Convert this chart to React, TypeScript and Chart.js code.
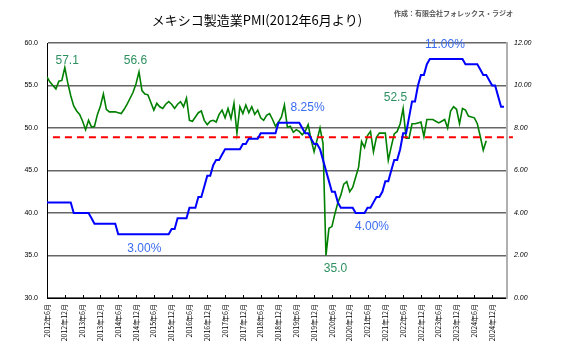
import { useEffect, useRef } from 'react';
import { Chart, registerables } from 'chart.js';
Chart.register(...registerables);

const titleText = 'メキシコ製造業PMI(2012年6月より)';
const sourceText = '作成：有限会社フォレックス・ラジオ';

const xTickLabels = [
  '2012年6月', '2012年12月', '2013年6月', '2013年12月', '2014年6月', '2014年12月',
  '2015年6月', '2015年12月', '2016年6月', '2016年12月', '2017年6月', '2017年12月',
  '2018年6月', '2018年12月', '2019年6月', '2019年12月', '2020年6月', '2020年12月',
  '2021年6月', '2021年12月', '2022年6月', '2022年12月', '2023年6月', '2023年12月',
  '2024年6月', '2024年12月',
];

// Monthly values from 2012-06
const pmi = [
  56.0, 55.4, 55.0, 54.6, 55.5, 55.6, 57.1, 55.3, 53.8, 52.6,
  52.0, 51.6, 50.8, 49.8, 50.9, 50.1, 50.2, 51.6, 52.6, 54.0,
  52.2, 51.9, 51.9, 51.9, 51.8, 51.7, 52.2, 52.8, 53.5, 54.2,
  55.2, 56.6, 54.4, 54.0, 53.9, 53.0, 52.1, 52.9, 52.5, 52.3,
  52.8, 53.1, 52.8, 52.3, 52.8, 53.1, 52.5, 53.5, 50.9, 50.8,
  51.3, 51.8, 52.0, 50.9, 50.4, 50.8, 50.9, 50.7, 51.6, 52.1,
  51.2, 52.3, 51.1, 52.9, 49.4, 52.5, 51.7, 52.7, 51.8, 52.5,
  51.6, 52.1, 51.2, 50.9, 51.5, 51.7, 51.0, 50.2, 50.7, 51.3,
  52.7, 50.1, 50.2, 49.5, 49.8, 49.6, 49.2, 49.6, 50.4, 48.6,
  47.2, 48.6, 50.0, 48.2, 35.0, 38.2, 38.4, 39.9, 41.2, 42.1,
  43.4, 43.7, 42.5, 43.0, 44.2, 45.4, 48.4, 47.7, 49.1, 49.6,
  47.2, 48.9, 49.4, 49.4, 49.4, 46.2, 47.8, 49.3, 49.6, 50.5,
  52.3, 48.8, 48.8, 50.5, 50.5, 50.6, 50.7, 49.0, 51.0, 51.0,
  51.0, 50.8, 50.6, 50.8, 51.0, 50.0, 52.0, 52.5, 52.2, 50.5,
  52.3, 52.1, 51.4, 51.3, 51.2, 50.5, 49.0, 47.4, 48.5,
];

const policyRate = [
  4.5, 4.5, 4.5, 4.5, 4.5, 4.5, 4.5, 4.5, 4.5, 4.0,
  4.0, 4.0, 4.0, 4.0, 4.0, 3.75, 3.5, 3.5, 3.5, 3.5,
  3.5, 3.5, 3.5, 3.5, 3.0, 3.0, 3.0, 3.0, 3.0, 3.0,
  3.0, 3.0, 3.0, 3.0, 3.0, 3.0, 3.0, 3.0, 3.0, 3.0,
  3.0, 3.0, 3.25, 3.25, 3.75, 3.75, 3.75, 3.75, 4.25, 4.25,
  4.25, 4.75, 4.75, 5.25, 5.75, 5.75, 6.25, 6.5, 6.5, 6.75,
  7.0, 7.0, 7.0, 7.0, 7.0, 7.0, 7.25, 7.25, 7.5, 7.5,
  7.5, 7.5, 7.75, 7.75, 7.75, 7.75, 7.75, 7.75, 8.25, 8.25,
  8.25, 8.25, 8.25, 8.25, 8.25, 8.25, 8.0, 7.75, 7.75, 7.5,
  7.25, 7.25, 7.0, 6.5, 6.0, 5.5, 5.0, 5.0, 4.5, 4.25,
  4.25, 4.25, 4.25, 4.25, 4.0, 4.0, 4.0, 4.0, 4.25, 4.25,
  4.5, 4.75, 4.75, 5.0, 5.5, 5.5, 6.0, 6.5, 6.5, 7.0,
  7.75, 7.75, 8.5, 9.25, 9.25, 10.0, 10.5, 10.5, 11.0, 11.25,
  11.25, 11.25, 11.25, 11.25, 11.25, 11.25, 11.25, 11.25, 11.25, 11.25,
  11.25, 11.0, 11.0, 11.0, 11.0, 11.0, 10.75, 10.5, 10.5, 10.25,
  10.0, 10.0, 9.5, 9.0, 9.0,
];

const benchmarkValue = 48.9;
const benchmarkSpan = [2, 157];

const GREEN = '#008000';
const BLUE = '#0000ff';
const GREEN_TEXT = '#2e9060';
const BLUE_TEXT = '#3a6cf0';

const annotations = [
  { text: '57.1', x: 6.8, y: 57.97, color: GREEN_TEXT },
  { text: '56.6', x: 29.8, y: 57.97, color: GREEN_TEXT },
  { text: '8.25%', x: 87.8, y: 52.34, color: BLUE_TEXT },
  { text: '11.00%', x: 134.1, y: 59.85, color: BLUE_TEXT },
  { text: '52.5', x: 117.4, y: 53.52, color: GREEN_TEXT },
  { text: '3.00%', x: 32.8, y: 35.8, color: BLUE_TEXT },
  { text: '4.00%', x: 109.5, y: 38.4, color: BLUE_TEXT },
  { text: '35.0', x: 97.2, y: 33.45, color: GREEN_TEXT },
];

const CJK = '"Noto Sans CJK JP", sans-serif';
const SANS = '"Liberation Sans", Arial, sans-serif';

export default function App() {
  const ref = useRef<HTMLCanvasElement>(null);

  useEffect(() => {
    const canvas = ref.current;
    if (!canvas) return;

    const textPlugin = {
      id: 'texts',
      afterDatasetsDraw(chart: any) {
        const { ctx, scales, chartArea } = chart;
        ctx.save();
        ctx.strokeStyle = '#000';
        ctx.lineWidth = 1;
        scales.x.ticks.forEach((t: any) => {
          const px = Math.round(scales.x.getPixelForValue(t.value)) + 0.5;
          ctx.beginPath();
          ctx.moveTo(px, chartArea.bottom);
          ctx.lineTo(px, chartArea.bottom - 3);
          ctx.stroke();
        });
        ctx.font = `12px ${SANS}`;
        ctx.textAlign = 'center';
        ctx.textBaseline = 'middle';
        annotations.forEach((a) => {
          ctx.fillStyle = a.color;
          ctx.fillText(a.text, scales.x.getPixelForValue(a.x), scales.y.getPixelForValue(a.y));
        });
        ctx.restore();
      },
      afterDraw(chart: any) {
        const { ctx } = chart;
        ctx.save();
        ctx.fillStyle = '#000';
        ctx.font = `13px ${CJK}`;
        ctx.textAlign = 'center';
        ctx.textBaseline = 'middle';
        ctx.fillText(titleText, 257, 20);
        ctx.fillStyle = '#555';
        ctx.font = `bold 7px ${CJK}`;
        ctx.textAlign = 'right';
        ctx.fillText(sourceText, 513, 13);
        ctx.restore();
      },
    };

    const chart = new Chart(canvas, {
      type: 'line',
      data: {
        datasets: [
          {
            label: '政策金利',
            data: policyRate.map((v, i) => ({ x: i, y: v })),
            yAxisID: 'y1',
            borderColor: BLUE,
            borderWidth: 2,
            pointRadius: 0,
            tension: 0,
          },
          {
            label: '基準',
            data: benchmarkSpan.map((x) => ({ x, y: benchmarkValue })),
            yAxisID: 'y',
            borderColor: '#ff0000',
            borderWidth: 2,
            borderDash: [7, 5],
            pointRadius: 0,
            clip: false as any,
          },
          {
            label: 'PMI',
            data: pmi.map((v, i) => ({ x: i, y: v })),
            yAxisID: 'y',
            borderColor: GREEN,
            borderWidth: 1.6,
            pointRadius: 0,
            tension: 0,
          },
        ],
      },
      options: {
        animation: false,
        responsive: false,
        devicePixelRatio: 1,
        layout: { padding: { top: 43, left: 0, right: 0, bottom: 0 } },
        plugins: {
          legend: { display: false },
          tooltip: { enabled: false },
          title: { display: false },
        },
        scales: {
          x: {
            type: 'linear',
            min: 0,
            max: 155,
            afterBuildTicks: (s: any) => {
              s.ticks = xTickLabels.map((_, i) => ({ value: i * 6 }));
            },
            afterFit: (s: any) => {
              s.height = 54;
            },
            ticks: {
              autoSkip: false,
              maxRotation: 90,
              minRotation: 90,
              padding: 6,
              color: '#000',
              font: { size: 7, family: CJK },
              callback: (v: any) => xTickLabels[Math.round(Number(v) / 6)] ?? '',
            },
            grid: { display: false, drawTicks: false },
            border: { display: true, color: '#000', width: 1 },
          },
          y: {
            type: 'linear',
            position: 'left',
            min: 30,
            max: 60,
            afterFit: (s: any) => {
              s.width = 47;
            },
            ticks: {
              stepSize: 5,
              padding: 9,
              color: '#000',
              font: { size: 7, family: SANS },
              callback: (v: any) => Number(v).toFixed(1),
            },
            grid: { color: '#666', lineWidth: 1.5, drawTicks: false },
            border: { display: true, color: '#000', width: 1 },
          },
          y1: {
            type: 'linear',
            position: 'right',
            min: 0,
            max: 12,
            afterFit: (s: any) => {
              s.width = 60;
            },
            ticks: {
              stepSize: 2,
              padding: 7,
              color: '#000',
              font: { size: 7, family: SANS, style: 'italic' },
              callback: (v: any) => Number(v).toFixed(2),
            },
            grid: { drawOnChartArea: false, drawTicks: false },
            border: { display: true, color: '#b0b0b0', width: 2 },
          },
        },
      },
      plugins: [textPlugin],
    });

    return () => chart.destroy();
  }, []);

  return (
    <div style={{ position: 'fixed', left: 0, top: 0, width: 567, height: 352, background: '#fff' }}>
      <canvas ref={ref} width={567} height={352} style={{ width: 567, height: 352, display: 'block' }} />
    </div>
  );
}
